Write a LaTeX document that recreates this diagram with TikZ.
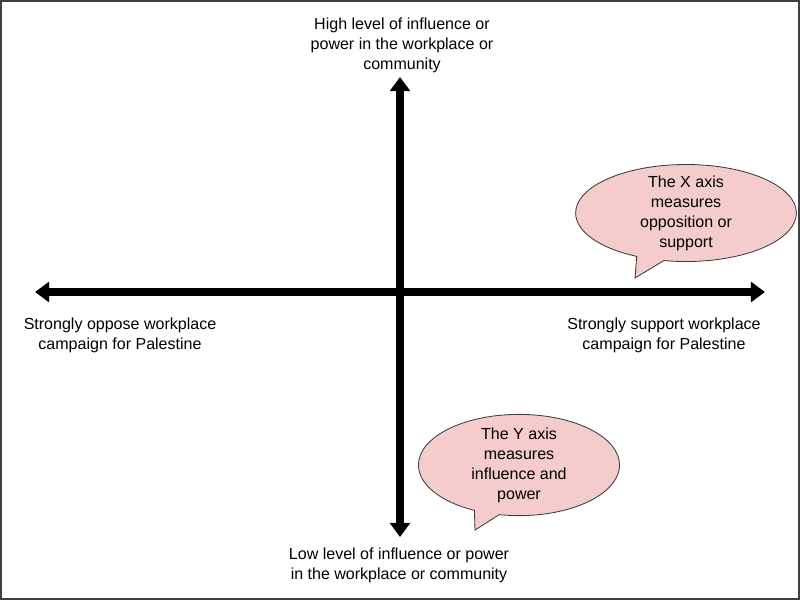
\documentclass[tikz,border=0pt]{standalone}
\usepackage{fontspec}
\setmainfont{Liberation Sans}
\usepackage{tikz}
\usetikzlibrary{positioning}
\usetikzlibrary{arrows.meta}
\usetikzlibrary{shapes.callouts}
\definecolor{notepink}{RGB}{244,204,204}
\definecolor{noteedge}{RGB}{60,60,60}
\tikzset{axis/.style={line width=5pt, {Triangle[length=10pt,width=14pt]}-{Triangle[length=10pt,width=14pt]}}}
\tikzset{lbl/.style={align=center, font=\fontsize{11.4}{14.2}\selectfont, inner sep=0pt}}
\tikzset{note/.style={ellipse callout, draw=noteedge, fill=notepink, line width=0.6pt,
  align=center, font=\fontsize{11.4}{14.2}\selectfont, inner xsep=0pt, inner ysep=-3pt}}

\begin{document}
\begin{tikzpicture}[x=0.025cm,y=-0.025cm]
\useasboundingbox (0,0) rectangle (800,600);
\draw[line width=1.5pt, black!75] (1,1) rectangle (799,599);
% axes
\coordinate (west) at (35,292);
\coordinate (east) at (765,292);
\coordinate (north) at (400,77);
\coordinate (south) at (400,537);
\draw[axis] (west) -- (east);
\draw[axis] (south) -- (north);
% axis labels
\node[lbl] (high) at (402,45) {High level of influence or\\power in the workplace or\\community};
\node[lbl] (low) at (399,565) {Low level of influence or power\\in the workplace or community};
\node[lbl] (oppose) at (120,335) {Strongly oppose workplace\\campaign for Palestine};
\node[lbl] (support) at (664,335) {Strongly support workplace\\campaign for Palestine};
% callouts
\node[note, minimum width=157pt, minimum height=69pt, callout absolute pointer={(635,278)}]
  (xnote) at (686,213) {The X axis\\measures\\opposition or\\support};
\node[note, minimum width=143pt, minimum height=72pt, callout absolute pointer={(475,530)}]
  (ynote) at (519,465) {The Y axis\\measures\\influence and\\power};
\end{tikzpicture}
\end{document}
